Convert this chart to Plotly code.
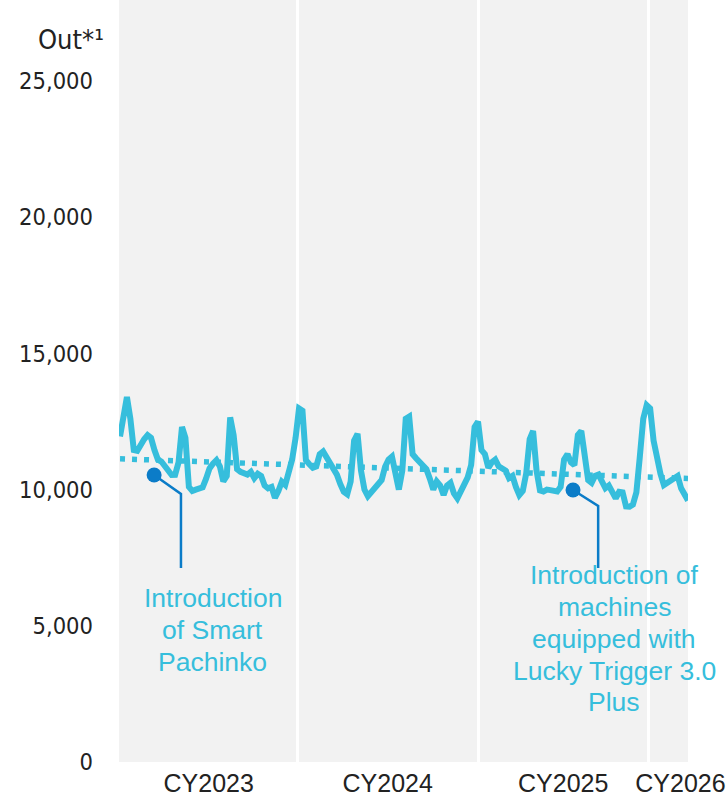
import plotly.graph_objects as go

# weekly "out" values, Jan 2023 -> early 2026
week_idx = list(range(166))
outs = [
    11950, 12800, 13400, 12600, 11450, 11420, 11680, 11850, 12000, 11900,
    11450, 11100, 11030, 10860, 10650, 10536, 10540, 11000, 12300, 11900,
    10100, 9950, 10000, 10050, 10080, 10400, 10780, 10950, 11080, 10850,
    10300, 10500, 12650, 12000, 10750, 10650, 10600, 10550, 10650, 10420,
    10580, 10500, 10150, 10050, 10100, 9700, 9950, 10290, 10170, 10550,
    11100, 11900, 12980, 12900, 11080, 10930, 10800, 10850, 11300, 11400,
    11200, 11000, 10750, 10550, 10200, 9920, 9830, 10300, 11800, 12050,
    10700, 10000, 9760, 9900, 10050, 10200, 10350, 10840, 11100, 11210,
    10600, 10000, 10700, 12600, 12680, 11300, 11150, 11000, 10850, 10750,
    10400, 10000, 10300, 10150, 9800, 10150, 10250, 9860, 9680, 9900,
    10200, 10450, 10900, 12300, 12500, 11450, 11300, 10800, 11000, 11100,
    10850, 10750, 10700, 10420, 10500, 10100, 9800, 9950, 10600, 11850,
    12150, 10700, 9970, 9930, 10000, 9980, 9950, 9930, 10100, 11100,
    11300, 11000, 10900, 12000, 12150, 11000, 10350, 10250, 10500, 10550,
    10230, 10050, 10150, 9900, 9680, 9920, 9900, 9380, 9370, 9450,
    9900, 11200, 12600, 13100, 12980, 11800, 11100, 10580, 10170, 10270,
    10330, 10450, 10500, 10050, 9800, 9600,
]

trend_x = [0, 165]
trend_y = [11130, 10410]

year_breaks = [51.5, 104, 153.5]
year_label_pos = [25.75, 77.75, 128.75, 162.8]
year_labels = ["CY2023", "CY2024", "CY2025", "CY2026"]

y_ticks = [0, 5000, 10000, 15000, 20000, 25000]

# callouts: dot -> elbow -> end of leader, then the text lines
callouts = [
    dict(x=[9.9, 17.7, 17.7], y=[10536, 9838, 7122],
         text_x=27.0, text_top=6020,
         lines=["Introduction", "of Smart", "Pachinko"]),
    dict(x=[131.6, 138.9, 138.9], y=[9985, 9398, 7122],
         text_x=143.6, text_top=6865,
         lines=["Introduction of", "machines", "equipped with",
                "Lucky Trigger 3.0", "Plus"]),
]
LINE_STEP = 1170  # vertical distance between text lines, in y units

LINE = "#36BEDC"
DARK = "#0B7CC8"
TEXT = "#222222"
SANS = "Liberation Sans, Arial, sans-serif"
TICK_FONT = "DejaVu Sans Condensed, DejaVu Sans, sans-serif"

fig = go.Figure()

fig.add_trace(go.Scatter(
    x=trend_x, y=trend_y, mode="lines",
    line=dict(color=LINE, width=5.5, dash="5px,7px"),
    hoverinfo="skip",
))
fig.add_trace(go.Scatter(
    x=week_idx, y=outs, mode="lines",
    line=dict(color=LINE, width=6),
    hovertemplate="%{y:,}<extra></extra>",
))

for c in callouts:
    fig.add_trace(go.Scatter(
        x=c["x"], y=c["y"], mode="lines",
        line=dict(color=DARK, width=2.5), hoverinfo="skip",
    ))
    fig.add_trace(go.Scatter(
        x=c["x"][:1], y=c["y"][:1], mode="markers",
        marker=dict(color=DARK, size=15), hoverinfo="skip",
    ))
    for k, line in enumerate(c["lines"]):
        fig.add_annotation(
            x=c["text_x"], y=c["text_top"] - k * LINE_STEP, text=line,
            showarrow=False, xanchor="center", yanchor="middle",
            font=dict(family=SANS, size=26.5, color=LINE),
        )

fig.add_annotation(
    xref="paper", yref="paper", x=-0.0228, y=0.948, text="Out*¹",
    showarrow=False, xanchor="right", yanchor="middle",
    font=dict(family=TICK_FONT, size=27, color=TEXT),
)

fig.update_layout(
    width=728, height=796,
    margin=dict(l=119, r=40, t=0, b=34),
    paper_bgcolor="white",
    plot_bgcolor="#F2F2F2",
    showlegend=False,
    xaxis=dict(
        range=[-0.3, 165.0],
        tickmode="array", tickvals=year_label_pos, ticktext=year_labels,
        showgrid=False, zeroline=False, ticks="",
        ticklabelstandoff=4,
        tickfont=dict(family=SANS, size=25, color=TEXT),
        minor=dict(tickmode="array", tickvals=year_breaks, showgrid=True,
                   gridcolor="white", gridwidth=3, ticks=""),
    ),
    yaxis=dict(
        range=[0, 27973],
        tickmode="array", tickvals=y_ticks, tickformat=",",
        showgrid=False, zeroline=False, ticks="",
        ticklabelstandoff=25,
        tickfont=dict(family=TICK_FONT, size=23.5, color=TEXT),
    ),
)

fig.write_html(
    "out.html",
    config={"displayModeBar": False},
    post_script="document.body.style.margin='0';",
)
